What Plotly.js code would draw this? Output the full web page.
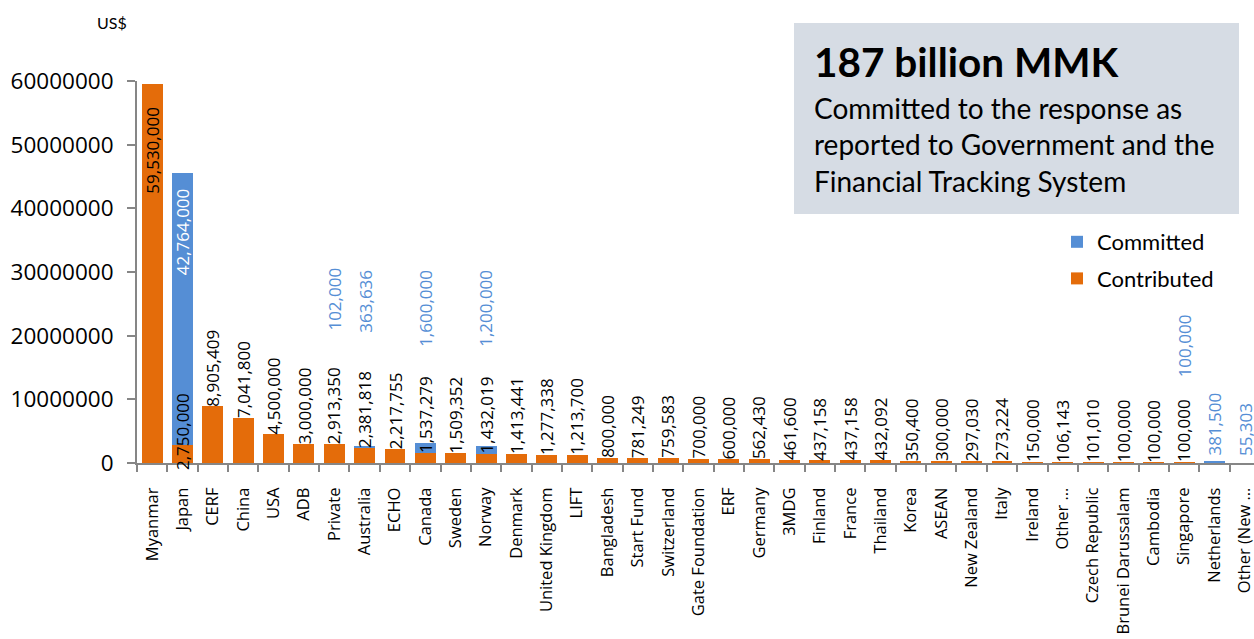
<!DOCTYPE html>
<html><head><meta charset="utf-8">
<script src="https://cdn.plot.ly/plotly-3.0.1.min.js"></script>
<style>html,body{margin:0;padding:0;overflow:hidden;background:#fff}#chart{width:1262px;height:639px}</style>
</head><body><div id="chart"></div>
<script>
// ---- data ----
const donors = ["Myanmar","Japan","CERF","China","USA","ADB","Private","Australia","ECHO","Canada","Sweden","Norway","Denmark","United Kingdom","LIFT","Bangladesh","Start Fund","Switzerland","Gate Foundation","ERF","Germany","3MDG","Finland","France","Thailand","Korea","ASEAN","New Zealand","Italy","Ireland","Other …","Czech Republic","Brunei Darussalam","Cambodia","Singapore","Netherlands","Other (New …"];
const contributed = [59530000,2750000,8905409,7041800,4500000,3000000,2913350,2381818,2217755,1537279,1509352,1432019,1413441,1277338,1213700,800000,781249,759583,700000,600000,562430,461600,437158,437158,432092,350400,300000,297030,273224,150000,106143,101010,100000,100000,100000,0,0];
const committed = [0,42764000,0,0,0,0,102000,363636,0,1600000,0,1200000,0,0,0,0,0,0,0,0,0,0,0,0,0,0,0,0,0,0,0,0,0,0,100000,381500,55303];
const yTickVals = [0,10000000,20000000,30000000,40000000,50000000,60000000];
const headline = "187 billion MMK";
const subline = "Committed to the response as<br>reported to Government and the<br>Financial Tracking System";

// ---- styles ----
const ORANGE = "#E46C0A", BLUE = "#558ED5", AXIS = "#868686";
const L = 137, R = 2, T = 81, B = 176, W = 1262, Hh = 639;
const PW = W - L - R, PH = Hh - T - B;
const px2x = p => (p - L) / PW;
const py2y = p => (T + PH - p) / PH;
const labelFont = {family: "Open Sans", size: 17, color: "#000"};
// pixel placement tweaks for labels (style only)
const contribLabelTweak = {"Myanmar": {yanchor: "top", yshift: -21}, "Japan": {base: true, yshift: -9}};
const commitLabelLift = {"Japan": {inside: true, yshift: -13}, "Private": 111, "Australia": 111, "Canada": 94, "Norway": 97, "Singapore": 82, "Netherlands": 3, "Other (New …": 5};

const fmt = v => v.toLocaleString("en-US");
const annotations = [];
donors.forEach((d, i) => {
  const c = contributed[i], m = committed[i];
  if (c > 0) {
    const tw = contribLabelTweak[d] || {};
    annotations.push({x: d, y: tw.base ? 0 : c, xref: "x", yref: "y", text: fmt(c), textangle: -90,
      showarrow: false, xanchor: "center", yanchor: tw.yanchor || "bottom", yshift: tw.yshift !== undefined ? tw.yshift : -2,
      font: labelFont});
  }
  if (m > 0) {
    const lift = commitLabelLift[d];
    if (lift && lift.inside) {
      annotations.push({x: d, y: c + m, xref: "x", yref: "y", text: fmt(m), textangle: -90, showarrow: false,
        xanchor: "center", yanchor: "top", yshift: lift.yshift, font: {family: "Open Sans", size: 17, color: "#ffffff"}});
    } else {
      annotations.push({x: d, y: c + m, xref: "x", yref: "y", text: fmt(m), textangle: -90, showarrow: false,
        xanchor: "center", yanchor: "bottom", yshift: (typeof lift === "number" ? lift : 3), font: {family: "Open Sans", size: 17, color: BLUE}});
    }
  }
});
annotations.push({xref: "paper", yref: "paper", x: px2x(111.5), y: py2y(22), text: "US$", showarrow: false,
  xanchor: "center", yanchor: "middle", font: {family: "Lato", size: 16, color: "#000"}});
annotations.push({xref: "paper", yref: "paper", x: px2x(812), y: py2y(61), text: "<b>" + headline + "</b>", showarrow: false,
  xanchor: "left", yanchor: "middle", align: "left", font: {family: "Lato", size: 40.5, color: "#000"}});
annotations.push({xref: "paper", yref: "paper", x: px2x(812), y: py2y(144), text: subline, showarrow: false,
  xanchor: "left", yanchor: "middle", align: "left", font: {family: "Lato", size: 28, color: "#000"}});

const traces = [
  {type: "bar", name: "Contributed", x: donors, y: contributed, marker: {color: ORANGE}, legendgroup: "a", legendrank: 2, hoverinfo: "skip"},
  {type: "bar", name: "Committed", x: donors, y: committed, marker: {color: BLUE}, legendgroup: "b", legendrank: 1, hoverinfo: "skip"}
];

const layout = {
  width: W, height: Hh, margin: {l: L, r: R, t: T, b: B, pad: 0},
  paper_bgcolor: "#fff", plot_bgcolor: "#fff",
  barmode: "stack", bargap: 0.31,
  showlegend: true,
  legend: {x: px2x(1057), y: py2y(221), xanchor: "left", yanchor: "top", traceorder: "grouped", tracegroupgap: 5,
    font: {family: "Lato", size: 22, color: "#000"}, bgcolor: "rgba(0,0,0,0)"},
  xaxis: {type: "category", tickson: "boundaries", ticks: "outside", ticklen: 7, tickwidth: 2, tickcolor: AXIS,
    showline: true, linecolor: AXIS, linewidth: 2, tickangle: -90, showgrid: false, ticklabelstandoff: 16,
    tickfont: {family: "Open Sans", size: 16.5, color: "#000"}, fixedrange: true},
  yaxis: {range: [0, 60000000], tickvals: yTickVals, tickformat: "d", ticks: "outside", ticklen: 8, tickwidth: 2,
    tickcolor: AXIS, showline: true, linecolor: AXIS, linewidth: 2, showgrid: false, zeroline: false,
    ticklabelstandoff: 9, tickfont: {family: "Open Sans", size: 22.5, color: "#000"}, fixedrange: true},
  shapes: [{type: "rect", xref: "paper", yref: "paper", x0: px2x(794), x1: px2x(1239), y0: py2y(214), y1: py2y(23),
    fillcolor: "#D6DCE4", line: {width: 0}, layer: "below"}],
  annotations: annotations
};
Plotly.newPlot("chart", traces, layout, {displayModeBar: false, staticPlot: true});
</script></body></html>
